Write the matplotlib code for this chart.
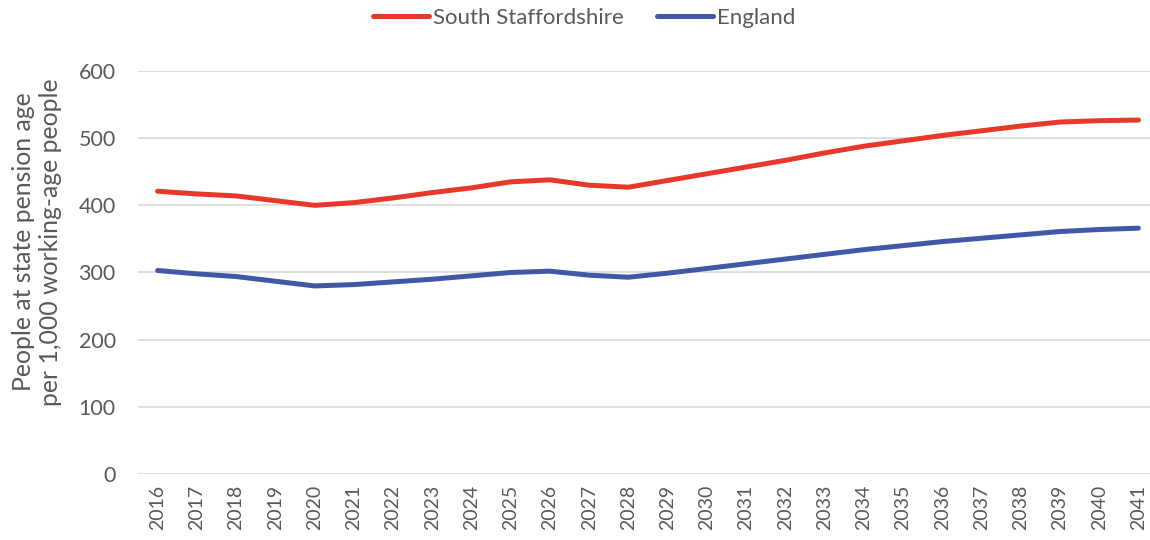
import matplotlib
matplotlib.use("Agg")
import matplotlib.pyplot as plt

years = [str(y) for y in range(2016, 2042)]
south_staffs = [421, 417, 414, 407, 400, 404, 411, 419, 426, 435, 438, 430, 427,
                437, 447, 457, 467, 478, 488, 496, 504, 511, 518, 524, 526, 527]
england = [303, 298, 294, 287, 280, 282, 286, 290, 295, 300, 302, 296, 293,
           299, 306, 313, 320, 327, 334, 340, 346, 351, 356, 361, 364, 366]
yticks = [0, 100, 200, 300, 400, 500, 600]

plt.rcParams['font.family'] = ['Lato', 'DejaVu Sans']
grey = '#595959'

fig = plt.figure(figsize=(11.5, 5.4), dpi=100)
ax = fig.add_axes([138/1150, 1-474/540, (1158-138)/1150, (474-71)/540])

x = list(range(len(years)))
ax.plot(x, south_staffs, color='#E8382A', lw=3.6, solid_capstyle='round', label='South Staffordshire', zorder=3)
ax.plot(x, england, color='#3F58A8', lw=3.6, solid_capstyle='round', label='England', zorder=3)

ax.set_xlim(-0.5, len(years) - 0.5)
ax.set_ylim(0, 600)
ax.set_yticks(yticks)
ax.set_yticklabels([str(v) for v in yticks], fontsize=15.5, color=grey)
ax.set_xticks(x)
ax.set_xticklabels(years, rotation=90, fontsize=14, color=grey)
ax.tick_params(length=0)
ax.tick_params(axis='y', pad=16)
ax.tick_params(axis='x', pad=8)
ax.grid(axis='y', color='#D9D9D9', lw=1.2, zorder=0)
for s in ax.spines.values():
    s.set_visible(False)

ax.set_ylabel('People at state pension age\nper 1,000 working-age people', fontsize=17.8, color=grey)
ax.yaxis.set_label_coords(-0.099, 0.576)
ax.yaxis.label.set_va('center')

leg = fig.legend(loc='center', bbox_to_anchor=(0.508, 1-18/540), ncol=2, frameon=False,
                 fontsize=16, handlelength=2.5, handletextpad=0.2, columnspacing=1.5)
for t in leg.get_texts():
    t.set_color(grey)

fig.savefig('out.png', dpi=100)
